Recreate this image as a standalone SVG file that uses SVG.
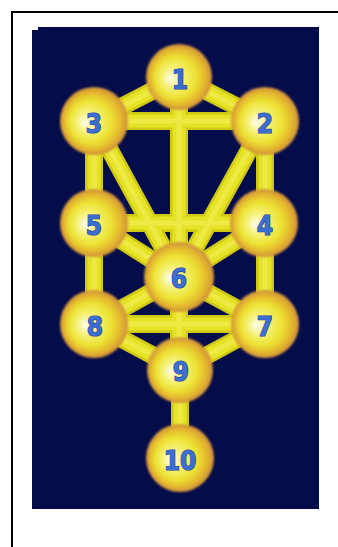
<svg xmlns="http://www.w3.org/2000/svg" width="338" height="547" viewBox="0 0 338 547">
<defs>
<radialGradient id="ball" cx="0.5" cy="0.5" r="0.5" fx="0.36" fy="0.52">
<stop offset="0" stop-color="#fdfdf0"/>
<stop offset="0.3" stop-color="#f6f27a"/>
<stop offset="0.62" stop-color="#ece232"/>
<stop offset="0.84" stop-color="#e4b82e"/>
<stop offset="1" stop-color="#cf8e3c"/>
</radialGradient>
<filter id="soft" x="-10%" y="-10%" width="120%" height="120%">
<feGaussianBlur stdDeviation="1"/>
</filter>
</defs>
<style>
.bg{fill:#050c4a}
.frame{fill:none;stroke:#000;stroke-width:2}
.bo{stroke:#cfc916;stroke-width:18;stroke-linecap:butt;fill:none}
.bm{stroke:#e6e326;stroke-width:13;fill:none}
.bi{stroke:#f2ef5c;stroke-width:5;fill:none}
.ball{fill:url(#ball);filter:url(#soft)}
.lbl{font-family:"DejaVu Sans Condensed","DejaVu Sans",sans-serif;font-weight:bold;font-size:26px;fill:#3c6ed2;stroke:#1d3f98;stroke-width:1.2;paint-order:stroke;text-anchor:middle}
</style>
<rect x="0" y="0" width="338" height="547" fill="#fff"/>
<rect class="frame" x="12" y="12" width="400" height="600"/>
<rect class="bg" x="32" y="27" width="287" height="482"/>
<rect x="32" y="27" width="6" height="3" fill="#fff"/>
<g id="connectors">
<g class="bo">
<path d="M179 77L94 121M179 77L265 121M94 121H265M179 77V370M94 121V324M265 121V324M94 121L179 277M265 121L179 277M94 223H264M94 223L179 277M264 223L179 277M179 277L94 324M179 277L265 324M94 324H265M94 324L180 370M265 324L180 370M180 370V458"/>
</g>
<g class="bm">
<path d="M179 77L94 121M179 77L265 121M94 121H265M179 77V370M94 121V324M265 121V324M94 121L179 277M265 121L179 277M94 223H264M94 223L179 277M264 223L179 277M179 277L94 324M179 277L265 324M94 324H265M94 324L180 370M265 324L180 370M180 370V458"/>
</g>
<g class="bi" opacity="0.6">
<path d="M179 77L94 121M179 77L265 121M94 121H265M179 77V370M94 121V324M265 121V324M94 121L179 277M265 121L179 277M94 223H264M94 223L179 277M264 223L179 277M179 277L94 324M179 277L265 324M94 324H265M94 324L180 370M265 324L180 370M180 370V458"/>
</g>
</g>
<g id="n1"><circle class="ball" cx="179" cy="77" r="33"/><text class="lbl" x="180" y="89">1</text></g>
<g id="n3"><circle class="ball" cx="94" cy="121" r="34"/><text class="lbl" x="94" y="133">3</text></g>
<g id="n2"><circle class="ball" cx="265" cy="121" r="34"/><text class="lbl" x="265" y="133">2</text></g>
<g id="n5"><circle class="ball" cx="94" cy="223" r="34"/><text class="lbl" x="94" y="235">5</text></g>
<g id="n4"><circle class="ball" cx="264" cy="223" r="34"/><text class="lbl" x="265" y="235">4</text></g>
<g id="n6"><circle class="ball" cx="179" cy="277" r="35"/><text class="lbl" x="179" y="288">6</text></g>
<g id="n8"><circle class="ball" cx="94" cy="324" r="34"/><text class="lbl" x="95" y="336">8</text></g>
<g id="n7"><circle class="ball" cx="265" cy="324" r="34"/><text class="lbl" x="265" y="336">7</text></g>
<g id="n9"><circle class="ball" cx="180" cy="370" r="33"/><text class="lbl" x="181" y="381">9</text></g>
<g id="n10"><circle class="ball" cx="180" cy="458" r="34"/><text class="lbl" x="180" y="470">10</text></g>
</svg>
